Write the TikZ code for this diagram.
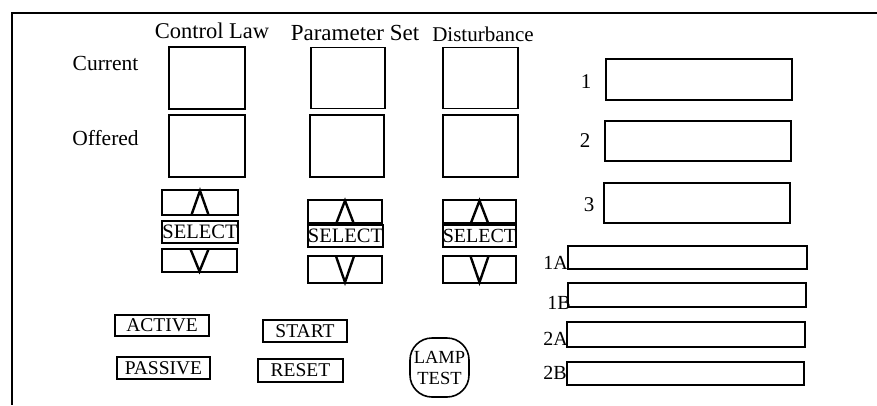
\documentclass[tikz,border=0pt]{standalone}
\usepackage{fontspec}
\setmainfont{Liberation Serif}
\tikzset{
  box/.style={draw, line width=1.6pt, inner sep=0pt, minimum width=#1},
  txt/.style={anchor=base, inner sep=0pt, font=\fontsize{20}{22}\selectfont},
  hdr/.style={anchor=base, inner sep=0pt, font=\fontsize{22}{24}\selectfont},
  btn/.style={draw, line width=1.6pt, inner sep=0pt, font=\fontsize{19.5}{21}\selectfont},
  chev/.style={line width=2.4pt, miter limit=10},
}
\newcommand{\upchev}[1]{\draw[chev] ([xshift=-8.5pt,yshift=1pt]#1.south) -- ([yshift=-1.5pt]#1.north) -- ([xshift=8.5pt,yshift=1pt]#1.south);}
\newcommand{\downchev}[1]{\draw[chev] ([xshift=-9pt,yshift=-1pt]#1.north) -- ([yshift=1.5pt]#1.south) -- ([xshift=9pt,yshift=-1pt]#1.north);}
\begin{document}
\begin{tikzpicture}[x=1pt,y=-1pt]
\useasboundingbox (0,0) rectangle (877,405);
% frame
\coordinate (ftr) at (877,13);
\coordinate (ftl) at (12,13);
\coordinate (fbl) at (12,405);
\draw[line width=1.3pt] (ftr) -- (ftl) -- (fbl);
% headers
\node[hdr, font=\fontsize{22.5}{24}\selectfont] (hcl) at (212,38) {Control Law};
\node[hdr, font=\fontsize{23}{24}\selectfont] (hps) at (355,40) {Parameter Set};
\node[hdr, font=\fontsize{21}{24}\selectfont] (hdi) at (483,41) {Disturbance};
\node[txt, font=\fontsize{21.5}{24}\selectfont] (lcur) at (105.5,70) {Current};
\node[txt, font=\fontsize{21.5}{24}\selectfont] (loff) at (105.5,145) {Offered};
% current / offered
\node[box=76pt, minimum height=62pt] (ccl) at (207,78) {};
\node[box=74pt, minimum height=61pt] (cps) at (348,78) {};
\node[box=75pt, minimum height=61pt] (cdi) at (480.5,78) {};
\node[box=76pt, minimum height=62pt] (ocl) at (207,146) {};
\node[box=74pt, minimum height=62pt] (ops) at (347,146) {};
\node[box=75pt, minimum height=62pt] (odi) at (480.5,146) {};
% select groups
\node[box=76pt, minimum height=25pt] (ucl) at (200,202.5) {};
\node[btn, font=\fontsize{20.5}{22}\selectfont, minimum width=76pt, minimum height=22pt] (scl) at (200,232) {SELECT};
\node[box=75pt, minimum height=23pt] (dcl) at (199.5,260.5) {};
\node[box=74pt, minimum height=23pt] (ups) at (345,211.5) {};
\node[btn, font=\fontsize{20.5}{22}\selectfont, minimum width=75pt, minimum height=22pt] (sps) at (345.5,236) {SELECT};
\node[box=74pt, minimum height=27pt] (dps) at (345,269.5) {};
\node[box=73pt, minimum height=23pt] (udi) at (479.5,211.5) {};
\node[btn, font=\fontsize{20}{22}\selectfont, minimum width=73pt, minimum height=22pt] (sdi) at (479.5,236) {SELECT};
\node[box=73pt, minimum height=27pt] (ddi) at (479.5,269.5) {};
\upchev{ucl}
\upchev{ups}
\upchev{udi}
\downchev{dcl}
\downchev{dps}
\downchev{ddi}
% buttons
\node[btn, minimum width=94pt, minimum height=21pt] (act) at (162,325.5) {ACTIVE};
\node[btn, minimum width=93pt, minimum height=22pt] (pas) at (163.5,368) {PASSIVE};
\node[btn, minimum width=84pt, minimum height=22pt] (sta) at (305,331) {START\hspace{6pt}};
\node[btn, minimum width=85pt, minimum height=23pt] (res) at (300.5,370.5) {RESET\hspace{6pt}};
\node[btn, minimum width=59pt, minimum height=59pt, rounded corners=22pt, align=center, font=\fontsize{18.5}{21}\selectfont] (lamp) at (439.5,367.5) {LAMP\\TEST};
% right boxes
\node[box=186pt, minimum height=41pt] (r1) at (699,79.5) {};
\node[box=186pt, minimum height=40pt] (r2) at (698,141) {};
\node[box=186pt, minimum height=40pt] (r3) at (697,203) {};
\node[txt, font=\fontsize{21}{22}\selectfont] (n1) at (586,88) {1};
\node[txt, font=\fontsize{21}{22}\selectfont] (n2) at (585,147) {2};
\node[txt, font=\fontsize{21}{22}\selectfont] (n3) at (589,211) {3};
\node[box=239pt, minimum height=23pt] (r1a) at (687.5,257.5) {};
\node[box=238pt, minimum height=24pt] (r1b) at (687,295) {};
\node[box=238pt, minimum height=25pt] (r2a) at (686,334.5) {};
\node[box=237pt, minimum height=23pt] (r2b) at (685.5,373.5) {};
\node[txt, anchor=base east] (n1a) at (568,269) {1A};
\node[txt, anchor=base east] (n1b) at (571,309) {1B};
\node[txt, anchor=base east] (n2a) at (568,345) {2A};
\node[txt, anchor=base east] (n2b) at (567,379) {2B};
\end{tikzpicture}
\end{document}
